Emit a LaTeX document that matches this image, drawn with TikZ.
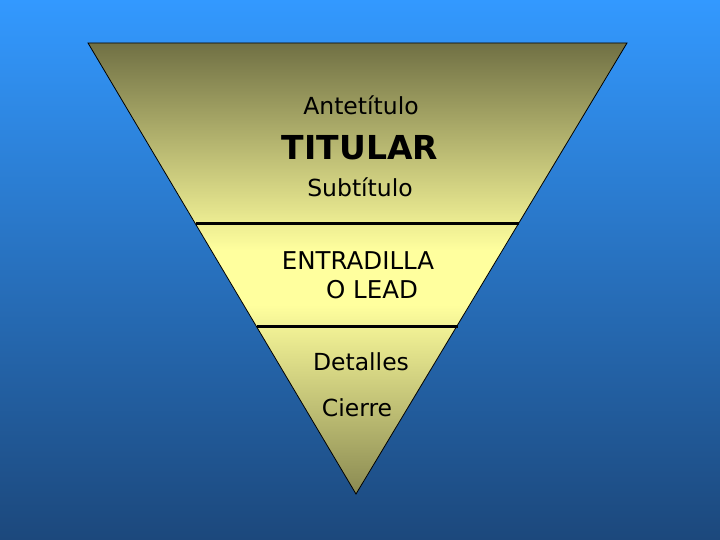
\documentclass[tikz,border=0pt]{standalone}
\usepackage{fontspec}
\setmainfont{DejaVu Sans}
\definecolor{bgtop}{RGB}{51,153,255}
\definecolor{bgbot}{RGB}{28,72,124}
\definecolor{olivetop}{RGB}{112,112,68}
\definecolor{olivebot}{RGB}{138,138,82}
\definecolor{paleyel}{RGB}{255,255,158}
\pgfdeclareverticalshading{trishade}{100bp}{color(0bp)=(olivebot); color(25bp)=(olivebot); color(46bp)=(paleyel); color(52bp)=(paleyel); color(75bp)=(olivetop); color(100bp)=(olivetop)}
\tikzset{
  lbl/.style={inner sep=0pt, font=\fontsize{23.5}{27}\selectfont, text=black},
  biglbl/.style={inner sep=0pt, font=\fontsize{24.5}{28}\selectfont, text=black},
  sepline/.style={line width=3pt, black},
}
\begin{document}
\begin{tikzpicture}[x=1pt,y=-1pt]
\useasboundingbox (0,0) rectangle (720,540);
\shade[top color=bgtop, bottom color=bgbot] (0,0) rectangle (720,540);
\coordinate (tl) at (88,43);
\coordinate (tr) at (627,43);
\coordinate (bt) at (356,494);
\shade[shading=trishade, draw=black, line width=0.8pt]
  (tl) -- (tr) -- (bt) -- cycle;
\coordinate (l1a) at (195.5,224);
\coordinate (l1b) at (518.5,224);
\coordinate (l2a) at (256.5,326);
\coordinate (l2b) at (457.5,326);
\draw[sepline] (l1a) -- (l1b);
\draw[sepline] (l2a) -- (l2b);
\node[lbl] (ante) at (361,105) {Antetítulo};
\node[lbl, font=\fontsize{33}{36}\bfseries\selectfont] (tit) at (360,148) {TITULAR};
\node[lbl] (sub) at (360,187) {Subtítulo};
\node[biglbl] (ent) at (358,261) {ENTRADILLA};
\node[biglbl] (lead) at (372,290) {O LEAD};
\node[lbl] (det) at (361,362) {Detalles};
\node[lbl] (cie) at (357,408) {Cierre};
\end{tikzpicture}
\end{document}
